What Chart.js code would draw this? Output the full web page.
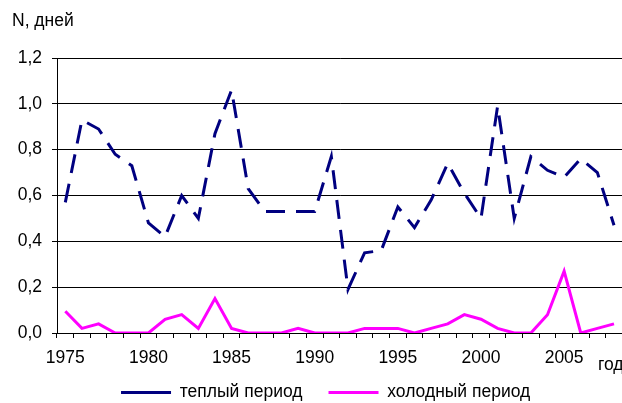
<!DOCTYPE html>
<html>
<head>
<meta charset="utf-8">
<script src="https://cdn.jsdelivr.net/npm/chart.js@4.4.0/dist/chart.umd.min.js"></script>
<style>
  html, body { margin: 0; padding: 0; background: #fff; overflow: hidden; }
  #chart { display: block; }
</style>
</head>
<body>
<canvas id="chart" width="624" height="420"></canvas>
<script>
// ============================================
// DATA
// ============================================
var years = [
  1975, 1976, 1977, 1978, 1979, 1980, 1981, 1982, 1983, 1984,
  1985, 1986, 1987, 1988, 1989, 1990, 1991, 1992, 1993, 1994,
  1995, 1996, 1997, 1998, 1999, 2000, 2001, 2002, 2003, 2004,
  2005, 2006, 2007, 2008
];
var warmPeriod = [
  0.57, 0.93, 0.89, 0.78, 0.73, 0.48, 0.42, 0.60, 0.50, 0.87,
  1.06, 0.63, 0.53, 0.53, 0.53, 0.53, 0.77, 0.19, 0.35, 0.36,
  0.55, 0.46, 0.58, 0.74, 0.61, 0.50, 0.99, 0.50, 0.77, 0.71,
  0.68, 0.76, 0.70, 0.47
];
var coldPeriod = [
  0.095, 0.02, 0.04, 0, 0, 0, 0.06, 0.08, 0.02, 0.15,
  0.02, 0, 0, 0, 0.02, 0, 0, 0, 0.02, 0.02,
  0.02, 0, 0.02, 0.04, 0.08, 0.06, 0.02, 0, 0, 0.08,
  0.27, 0, 0.02, 0.04
];
var yTicks = [0, 0.2, 0.4, 0.6, 0.8, 1.0, 1.2];

var FONT = "'Liberation Sans', Arial, sans-serif";
var FS = 17.5;

// "год" label at the right end of the x axis
var axisUnitPlugin = {
  id: "axisUnit",
  afterDraw: function (chart) {
    var ctx = chart.ctx;
    ctx.save();
    ctx.font = FS + "px " + FONT;
    ctx.fillStyle = "#000";
    ctx.textAlign = "left";
    ctx.textBaseline = "alphabetic";
    ctx.fillText("год", 598, 370);
    ctx.restore();
  }
};

// nudge the legend a bit left and up, like in the original
var legendNudgePlugin = {
  id: "legendNudge",
  afterLayout: function (chart) {
    var lg = chart.legend;
    if (!lg) return;
    lg.left -= 14;
    lg.right -= 14;
    lg.top -= 8.75;
    lg.bottom -= 8.75;
  }
};

new Chart(document.getElementById("chart"), {
  type: "line",
  data: {
    labels: years,
    datasets: [
      {
        label: "теплый период",
        data: warmPeriod,
        borderColor: "#000080",
        backgroundColor: "#000080",
        borderWidth: 3,
        borderDash: [19, 11],
        pointRadius: 0,
        tension: 0,
        fill: false
      },
      {
        label: "холодный период",
        data: coldPeriod,
        borderColor: "#FF00FF",
        backgroundColor: "#FF00FF",
        borderWidth: 3,
        pointRadius: 0,
        tension: 0,
        fill: false
      }
    ]
  },
  options: {
    responsive: false,
    animation: false,
    devicePixelRatio: 1,
    layout: { padding: { left: 12, top: 0, right: 0, bottom: 0 } },
    plugins: {
      title: {
        display: true,
        text: "N, дней",
        align: "start",
        color: "#000",
        font: { family: FONT, size: FS, weight: "normal" },
        padding: { top: 11, bottom: 26 }
      },
      legend: {
        position: "bottom",
        fullSize: false,
        labels: {
          color: "#000",
          font: { family: FONT, size: FS },
          usePointStyle: true,
          pointStyle: "line",
          pointStyleWidth: 50,
          boxWidth: 50,
          padding: 26
        }
      },
      tooltip: { enabled: false }
    },
    scales: {
      x: {
        type: "category",
        offset: true,
        afterFit: function (scale) { scale.height = 33.5; },
        grid: {
          offset: true,
          drawOnChartArea: false,
          drawTicks: true,
          tickLength: 5,
          color: "#000",
          lineWidth: 1
        },
        border: { color: "#000", width: 1 },
        ticks: {
          autoSkip: false,
          maxRotation: 0,
          minRotation: 0,
          padding: 10,
          color: "#000",
          font: { family: FONT, size: FS },
          callback: function (value, index) {
            return years[index] % 5 === 0 ? String(years[index]) : "";
          }
        }
      },
      y: {
        min: yTicks[0],
        max: yTicks[yTicks.length - 1],
        afterFit: function (scale) { scale.width = 45; },
        afterBuildTicks: function (scale) {
          scale.ticks = yTicks.map(function (v) { return { value: v }; });
        },
        grid: {
          color: "#000",
          lineWidth: 1,
          tickLength: 5
        },
        border: { color: "#000", width: 1 },
        ticks: {
          padding: 10,
          color: "#000",
          font: { family: FONT, size: FS },
          callback: function (value) {
            return value.toFixed(1).replace(".", ",");
          }
        }
      }
    }
  },
  plugins: [axisUnitPlugin, legendNudgePlugin]
});
</script>
</body>
</html>
